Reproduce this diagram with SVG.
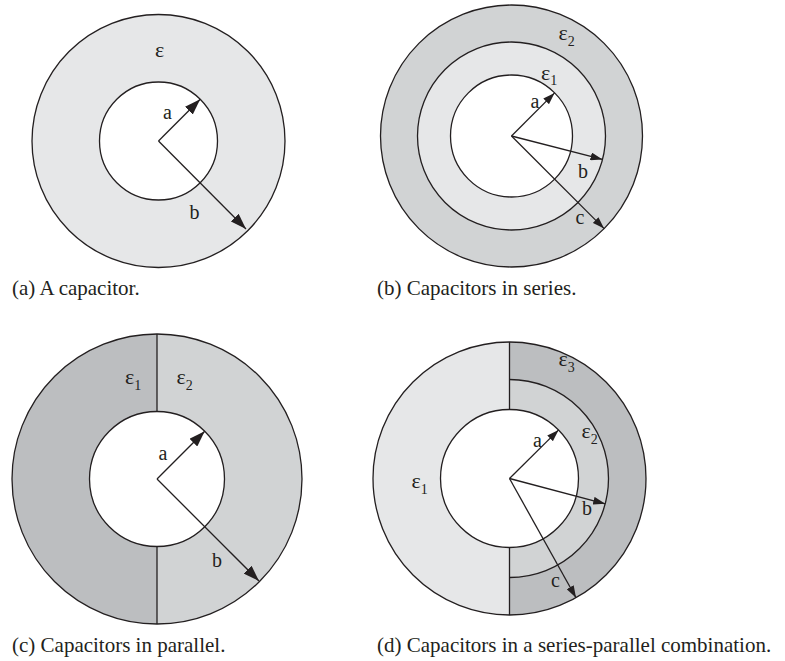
<svg xmlns="http://www.w3.org/2000/svg" width="785" height="661" viewBox="0 0 785 661">
<style>
  .ln { stroke: #231f20; stroke-width: 1.3; }
  .ring { stroke: #231f20; stroke-width: 1.3; }
  .g10 { fill: #e6e7e8; }
  .g20 { fill: #d1d3d4; }
  .g30 { fill: #bcbec0; }
  .hole { fill: #ffffff; }
  .arr { stroke: #231f20; stroke-width: 1.3; fill: none; }
  .big { marker-end: url(#ahBig); }
  .small { marker-end: url(#ahSmall); }
  text { font-family: "Liberation Serif", "Times New Roman", serif; fill: #231f20; }
  .lbl { font-size: 20px; }
  .eps { font-size: 22px; }
  .cap { font-size: 21px; }
  .sub { font-size: 14px; }
</style>
<defs>
  <marker id="ahBig" viewBox="0 0 16 11" refX="16" refY="5.5" markerWidth="16" markerHeight="11" orient="auto" markerUnits="userSpaceOnUse">
    <path d="M0,0 L16,5.5 L0,11 z" fill="#231f20"/>
  </marker>
  <marker id="ahSmall" viewBox="0 0 12 8" refX="12" refY="4" markerWidth="12" markerHeight="8" orient="auto" markerUnits="userSpaceOnUse">
    <path d="M0,0 L12,4 L0,8 z" fill="#231f20"/>
  </marker>
</defs>

<!-- Panel (a) -->
<g id="panel-a">
  <circle class="ring g10" cx="158.5" cy="141" r="126.5"/>
  <circle class="ring hole" cx="158.5" cy="141" r="59"/>
  <text class="eps" x="155" y="56.5">ε</text>
  <text class="lbl" x="163" y="119">a</text>
  <text class="lbl" x="189.5" y="218.5">b</text>
  <text class="cap" x="12" y="295">(a) A capacitor.</text>
</g>

<!-- Panel (b) -->
<g id="panel-b">
  <circle class="ring g20" cx="511.5" cy="136" r="131"/>
  <circle class="ring g10" cx="511.5" cy="136" r="94"/>
  <circle class="ring hole" cx="511.5" cy="136" r="61"/>
  <text class="eps" x="558.5" y="40">ε<tspan class="sub" dy="6">2</tspan></text>
  <text class="eps" x="541" y="80">ε<tspan class="sub" dy="5">1</tspan></text>
  <text class="lbl" x="530.5" y="107.5">a</text>
  <text class="lbl" x="578" y="177.5">b</text>
  <text class="lbl" x="575.5" y="224">c</text>
  <text class="cap" x="377" y="295">(b) Capacitors in series.</text>
</g>

<!-- Panel (c) -->
<g id="panel-c">
  <path class="g30" d="M157,334 A145,145 0 0,0 157,624 Z"/>
  <path class="g20" d="M157,334 A145,145 0 0,1 157,624 Z"/>
  <circle class="ring" cx="157" cy="479" r="145" fill="none"/>
  <circle class="ring hole" cx="157" cy="479" r="67.5"/>
  <line class="ln" x1="157" y1="334" x2="157" y2="411.5"/>
  <line class="ln" x1="157" y1="546.5" x2="157" y2="624"/>
  <text class="eps" x="125" y="383.5">ε<tspan class="sub" dy="6">1</tspan></text>
  <text class="eps" x="176.5" y="383.5">ε<tspan class="sub" dy="6">2</tspan></text>
  <text class="lbl" x="158.5" y="460">a</text>
  <text class="lbl" x="212" y="567">b</text>
  <text class="cap" x="12" y="652">(c) Capacitors in parallel.</text>
</g>

<!-- Panel (d) -->
<g id="panel-d">
  <path class="g10" d="M509.5,342 A136.5,136.5 0 0,0 509.5,615 Z"/>
  <path class="g30" d="M509.5,342 A136.5,136.5 0 0,1 509.5,615 Z"/>
  <path class="ring g20" d="M509.5,379.5 A99,99 0 0,1 509.5,577.5"/>
  <circle class="ring" cx="509.5" cy="478.5" r="136.5" fill="none"/>
  <circle class="ring hole" cx="509.5" cy="478.5" r="69"/>
  <line class="ln" x1="509.5" y1="342" x2="509.5" y2="409.5"/>
  <line class="ln" x1="509.5" y1="547.5" x2="509.5" y2="615"/>
  <text class="eps" x="558.5" y="366">ε<tspan class="sub" dy="6">3</tspan></text>
  <text class="eps" x="581.5" y="438">ε<tspan class="sub" dy="6">2</tspan></text>
  <text class="eps" x="411.5" y="488">ε<tspan class="sub" dy="6">1</tspan></text>
  <text class="lbl" x="533" y="446.5">a</text>
  <text class="lbl" x="582" y="515">b</text>
  <text class="lbl" x="551" y="587">c</text>
  <text class="cap" x="377" y="652">(d) Capacitors in a series-parallel combination.</text>
</g>

<!-- Connectors (radius arrows) -->
<g id="connectors">
  <line class="arr big" x1="158.5" y1="141" x2="200.2" y2="99.3"/>
  <line class="arr big" x1="158.5" y1="141" x2="246" y2="229"/>
  <line class="arr small" x1="511.5" y1="136" x2="554.6" y2="92.9"/>
  <line class="arr small" x1="511.5" y1="136" x2="602.5" y2="159.4"/>
  <line class="arr small" x1="511.5" y1="136" x2="604.1" y2="228.6"/>
  <line class="arr big" x1="157" y1="479" x2="204.7" y2="431.3"/>
  <line class="arr big" x1="157" y1="479" x2="259" y2="581"/>
  <line class="arr small" x1="509.5" y1="478.5" x2="558.6" y2="429.9"/>
  <line class="arr small" x1="509.5" y1="478.5" x2="605.2" y2="503.8"/>
  <line class="arr small" x1="509.5" y1="478.5" x2="576" y2="597.7"/>
</g>
</svg>
